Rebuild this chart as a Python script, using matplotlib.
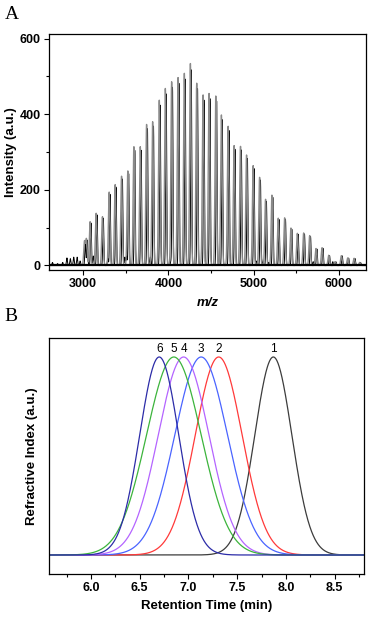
import numpy as np
import matplotlib
matplotlib.use('Agg')
import matplotlib.pyplot as plt
from matplotlib.ticker import MultipleLocator

plt.rcParams['font.family'] = ['Liberation Sans', 'DejaVu Sans']

# Painel A: picos do espectro de massas (m/z, intensidade)
ms_mz = [3020, 3043, 3086, 3157, 3231, 3310, 3380, 3455, 3529, 3600, 3675,
         3749, 3820, 3898, 3969, 4043, 4118, 4192, 4263, 4337, 4412, 4482,
         4561, 4627, 4706, 4776, 4851, 4922, 5000, 5075, 5145, 5220, 5294,
         5369, 5443, 5518, 5592, 5663, 5737, 5808, 5886, 5961, 6035, 6110,
         6184, 6250]
ms_int = [63, 69, 116, 138, 129, 194, 214, 236, 250, 314, 314,
          373, 380, 437, 468, 486, 497, 508, 534, 482, 451, 455,
          448, 398, 368, 317, 315, 292, 264, 233, 175, 186, 125,
          126, 99, 85, 86, 79, 45, 47, 27, 10, 26, 20,
          19, 8]
# ruido / picos pequenos
noise_mz = [2640, 2700, 2760, 2810, 2850, 2890, 2930, 2965, 3120, 3290,
            3490, 3510, 3790, 4030, 5030, 5100, 5180, 5700, 5930]
noise_int = [8, 5, 8, 20, 18, 22, 22, 12, 25, 18, 22, 25, 22, 10, 12, 10, 8, 10, 10]

# Painel B: curvas de GPC
gpc_labels = ['1', '2', '3', '4', '5', '6']
gpc_center = [7.87, 7.31, 7.13, 6.95, 6.85, 6.70]
gpc_sigma = [0.19, 0.24, 0.27, 0.26, 0.28, 0.20]
gpc_colors = ['#3c3c3c', '#ff3a3a', '#4a64ff', '#b464ff', '#3cb43c', '#2c2ca8']

fig = plt.figure(figsize=(3.68, 6.18), dpi=100)

# ---------- A ----------
ax1 = fig.add_axes([0.1332, 0.5631, 0.8614, 0.3819])
mz = np.linspace(2600, 6320, 6000)
gray = np.zeros_like(mz)
black = np.zeros_like(mz)
for m, h in zip(ms_mz, ms_int):
    gray += h * np.exp(-0.5 * ((mz - (m - 4)) / 9.0) ** 2)
    black += 0.97 * h * np.exp(-0.5 * ((mz - (m + 6)) / 6.0) ** 2)
for m, h in zip(noise_mz, noise_int):
    black += h * np.exp(-0.5 * ((mz - m) / 6.0) ** 2)
ax1.plot(mz, black, color='black', lw=0.7)
ax1.plot(mz, gray, color='#8a8a8a', lw=1.0)
ax1.axhline(0, color='black', lw=1.6)
ax1.set_xlim(2600, 6320)
ax1.set_ylim(-12, 612)
ax1.xaxis.set_major_locator(MultipleLocator(1000))
ax1.xaxis.set_minor_locator(MultipleLocator(500))
ax1.yaxis.set_major_locator(MultipleLocator(200))
ax1.yaxis.set_minor_locator(MultipleLocator(100))
ax1.tick_params(which='both', direction='out', top=False, right=False,
                labelsize=9, width=0.8)
ax1.tick_params(which='major', length=3.5, pad=2.5)
ax1.tick_params(which='minor', length=2)
for lab in ax1.get_xticklabels() + ax1.get_yticklabels():
    lab.set_fontweight('bold')
ax1.set_xlabel('m/z', fontsize=9.5, fontweight='bold', style='italic', labelpad=5)
ax1.set_ylabel('Intensity (a.u.)', fontsize=9.5, fontweight='bold', labelpad=2)
for s in ax1.spines.values():
    s.set_linewidth(0.9)

# ---------- B ----------
ax2 = fig.add_axes([0.1332, 0.0712, 0.856, 0.3819])
t = np.linspace(5.5, 8.9, 1200)
for lab, c, s, col in zip(gpc_labels, gpc_center, gpc_sigma, gpc_colors):
    y = np.exp(-0.5 * ((t - c) / s) ** 2)
    ax2.plot(t, y, color=col, lw=0.9)
    ax2.text(c, 1.012, lab, ha='center', va='bottom', fontsize=8.5)
ax2.set_xlim(5.57, 8.8)
ax2.set_ylim(-0.096, 1.096)
ax2.xaxis.set_major_locator(MultipleLocator(0.5))
ax2.xaxis.set_minor_locator(MultipleLocator(0.25))
ax2.set_yticks([])
ax2.tick_params(which='both', direction='out', top=False, right=False,
                labelsize=9, width=0.8)
ax2.tick_params(which='major', length=3.5, pad=2.5)
ax2.tick_params(which='minor', length=2)
for lab in ax2.get_xticklabels():
    lab.set_fontweight('bold')
ax2.set_xlabel('Retention Time (min)', fontsize=9.5, fontweight='bold', labelpad=4)
ax2.set_ylabel('Refractive Index (a.u.)', fontsize=9.5, fontweight='bold', labelpad=8)
for s in ax2.spines.values():
    s.set_linewidth(0.9)

fig.text(0.013, 0.99, 'A', family='Liberation Serif', fontsize=14, va='top')
fig.text(0.013, 0.502, 'B', family='Liberation Serif', fontsize=14, va='top')

fig.savefig('out.png', dpi=100)
